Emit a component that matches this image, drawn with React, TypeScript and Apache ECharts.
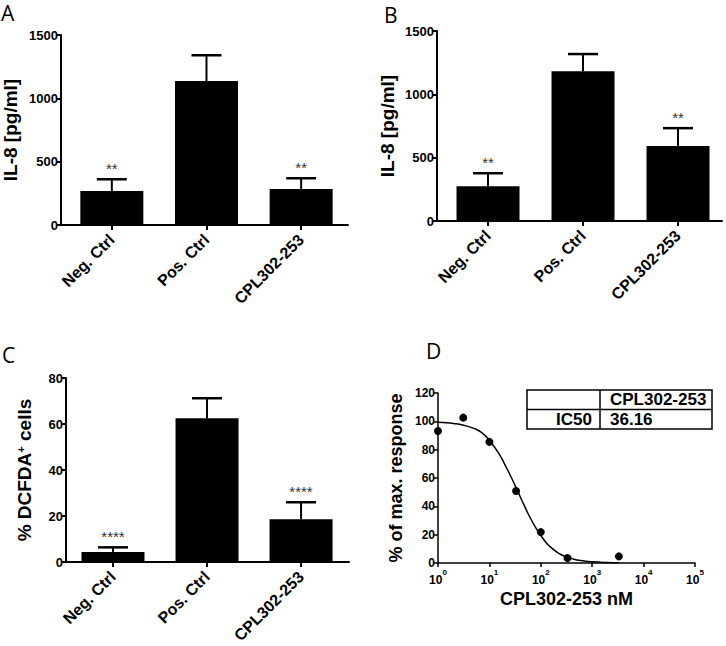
import React, { useEffect, useRef } from 'react';
import * as echarts from 'echarts';

const categories = ['Neg. Ctrl', 'Pos. Ctrl', 'CPL302-253'];

const aMeans = [268, 1137, 284];
const aErrTops = [361, 1340, 369];
const aStars = ['**', '', '**'];

const bMeans = [274, 1183, 593];
const bErrTops = [377, 1318, 733];
const bStars = ['**', '', '**'];

const cMeans = [4.4, 62.5, 18.6];
const cErrTops = [6.4, 71.2, 26.0];
const cStars = ['****', '', '****'];

const dDoses = [1, 3.1, 10, 33, 100, 330, 3300];
const dResponses = [93.2, 102.6, 85.5, 50.8, 21.8, 3.5, 4.7];

const fitDoses = [1, 1.5, 2, 3, 5, 7, 10, 15, 20, 25, 30, 36, 45, 60, 80, 100, 130, 170, 220, 300, 400, 600, 1000, 2000, 3300];
const fitResponses = [99.3, 99.0, 98.5, 97.4, 95.0, 92.2, 86.5, 77.8, 69.5, 62.5, 56.5, 50.2, 42.5, 33.0, 24.8, 19.5, 14.0, 10.0, 7.0, 4.6, 3.1, 1.7, 0.8, 0.3, 0.15];

const decadeTicks = [1, 10, 100, 1000, 10000, 100000];
const tableHeader = 'CPL302-253';
const tableRowLabel = 'IC50';
const tableRowValue = '36.16';

const FONT = '"Liberation Sans", Arial, Helvetica, sans-serif';
const LETTER_FONT = '"Open Sans", "Liberation Sans", sans-serif';

function barPanel(
  idx: number,
  means: number[],
  errs: number[],
  stars: string[],
  xMin: number,
  xMax: number,
  yMax: number,
  yInterval: number,
  name: any,
  nameGap: number,
  nameRich?: any
) {
  const xAxis = {
    type: 'value',
    gridIndex: idx,
    min: xMin,
    max: xMax,
    splitLine: { show: false },
    axisLine: { show: true, onZero: false, lineStyle: { color: '#000', width: 2 } },
    axisTick: { show: true, customValues: [0, 1, 2], length: 5, lineStyle: { color: '#000', width: 2 } },
    axisLabel: {
      show: true,
      customValues: [0, 1, 2],
      formatter: (v: number) => categories[Math.round(v)] ?? '',
      rotate: 45,
      fontSize: 16,
      fontWeight: 'bold',
      color: '#000',
      fontFamily: FONT,
      margin: 12,
    },
  };
  const yAxis = {
    type: 'value',
    gridIndex: idx,
    min: 0,
    max: yMax,
    interval: yInterval,
    splitLine: { show: false },
    axisLine: { show: true, onZero: false, lineStyle: { color: '#000', width: 2 } },
    axisTick: { show: true, length: 5, lineStyle: { color: '#000', width: 2 } },
    axisLabel: {
      fontSize: 13,
      fontWeight: 'bold',
      color: '#000',
      fontFamily: FONT,
      margin: 3,
      formatter: (v: number) => String(v),
    },
    name,
    nameLocation: 'middle',
    nameGap,
    nameRotate: 90,
    nameTextStyle: { fontSize: 19, fontWeight: 'bold', color: '#000', fontFamily: FONT, rich: nameRich },
  };
  const bars = {
    type: 'bar',
    xAxisIndex: idx,
    yAxisIndex: idx,
    barWidth: 63,
    itemStyle: { color: '#000' },
    data: means.map((m, i) => [i, m]),
    z: 2,
  };
  const errSeries = {
    type: 'custom',
    xAxisIndex: idx,
    yAxisIndex: idx,
    z: 3,
    encode: { x: 0, y: [1, 2] },
    data: means.map((m, i) => [i, m, errs[i]]),
    renderItem: (params: any, api: any) => {
      const x = api.value(0);
      const p0 = api.coord([x, api.value(1)]);
      const p1 = api.coord([x, api.value(2)]);
      const star = stars[params.dataIndex] || '';
      return {
        type: 'group',
        children: [
          { type: 'line', shape: { x1: p0[0], y1: p0[1], x2: p1[0], y2: p1[1] }, style: { stroke: '#000', lineWidth: 2 } },
          { type: 'line', shape: { x1: p1[0] - 15, y1: p1[1], x2: p1[0] + 15, y2: p1[1] }, style: { stroke: '#000', lineWidth: 2.5 } },
          {
            type: 'text',
            style: {
              text: star,
              x: p1[0],
              y: p1[1] - 3,
              align: 'center',
              verticalAlign: 'bottom',
              fontSize: 15,
              fontFamily: FONT,
              fill: '#333',
            },
          },
        ],
      };
    },
  };
  return { xAxis, yAxis, series: [bars, errSeries] };
}

export default function App() {
  const ref = useRef<HTMLDivElement>(null);
  useEffect(() => {
    if (!ref.current) return;
    const chart = echarts.init(ref.current, undefined, { renderer: 'svg' });

    const A = barPanel(0, aMeans, aErrTops, aStars, -0.537, 2.495, 1500, 500, 'IL-8 [pg/ml]', 41);
    const B = barPanel(1, bMeans, bErrTops, bStars, -0.537, 2.463, 1500, 500, 'IL-8 [pg/ml]', 40);
    const C = barPanel(
      2, cMeans, cErrTops, cStars, -0.5, 2.51, 80, 20,
      '% DCFDA{sup|+} cells', 32,
      { sup: { fontSize: 11, fontWeight: 'bold', fontFamily: FONT, color: '#000', verticalAlign: 'top', lineHeight: 11 } }
    );

    const dX = {
      type: 'log',
      logBase: 10,
      gridIndex: 3,
      min: 1,
      max: 100000,
      splitLine: { show: false },
      minorTick: { show: false },
      axisLine: { show: true, onZero: false, lineStyle: { color: '#000', width: 1.5 } },
      axisTick: { show: true, customValues: decadeTicks, length: 4, lineStyle: { color: '#000', width: 1.5 } },
      axisLabel: {
        customValues: decadeTicks,
        formatter: (v: number) => `{b|10}{s|${Math.round(Math.log10(v))}}`,
        margin: 5,
        rich: {
          b: { fontSize: 12, fontWeight: 'bold', fontFamily: FONT, color: '#000', lineHeight: 18, verticalAlign: 'bottom' },
          s: { fontSize: 8, fontWeight: 'bold', fontFamily: FONT, color: '#000', lineHeight: 8, verticalAlign: 'top' },
        },
      },
      name: 'CPL302-253 nM',
      nameLocation: 'middle',
      nameGap: 27,
      nameTextStyle: { fontSize: 18, fontWeight: 'bold', color: '#000', fontFamily: FONT },
    };
    const dY = {
      type: 'value',
      gridIndex: 3,
      min: 0,
      max: 120,
      interval: 20,
      splitLine: { show: false },
      axisLine: { show: true, onZero: false, lineStyle: { color: '#000', width: 1.5 } },
      axisTick: { show: true, length: 4, lineStyle: { color: '#000', width: 1.5 } },
      axisLabel: { fontSize: 12, fontWeight: 'bold', color: '#000', fontFamily: FONT, margin: 3 },
      name: '% of max. response',
      nameLocation: 'middle',
      nameGap: 33,
      nameRotate: 90,
      nameTextStyle: { fontSize: 18, fontWeight: 'bold', color: '#000', fontFamily: FONT },
    };

    const letter = (t: string, x: number, y: number) => ({
      type: 'text',
      x,
      y,
      style: { text: t, fontSize: 21, fontFamily: LETTER_FONT, fill: '#000', verticalAlign: 'middle', align: 'left' },
    });

    const tl = 527, tt = 390, tw = 185, th = 39, tdiv = 600;
    const tableStroke = { stroke: '#000', lineWidth: 1.5, fill: 'none' };

    chart.setOption({
      animation: false,
      backgroundColor: '#fff',
      grid: [
        { left: 60, top: 35, width: 288, height: 190 },
        { left: 437, top: 31, width: 285, height: 190 },
        { left: 66, top: 378, width: 283, height: 188 },
        { left: 438, top: 393, width: 257, height: 170 },
      ],
      xAxis: [A.xAxis, B.xAxis, C.xAxis, dX],
      yAxis: [A.yAxis, B.yAxis, C.yAxis, dY],
      series: [
        ...A.series,
        ...B.series,
        ...C.series,
        {
          type: 'line',
          xAxisIndex: 3,
          yAxisIndex: 3,
          data: fitDoses.map((d, i) => [d, fitResponses[i]]),
          showSymbol: false,
          smooth: true,
          lineStyle: { color: '#000', width: 1.5 },
          z: 2,
        },
        {
          type: 'scatter',
          xAxisIndex: 3,
          yAxisIndex: 3,
          data: dDoses.map((d, i) => [d, dResponses[i]]),
          symbol: 'circle',
          symbolSize: 8,
          itemStyle: { color: '#000', opacity: 1 },
          z: 3,
        },
      ],
      graphic: [
        letter('A', 1, 13),
        letter('B', 384, 15),
        letter('C', 2, 355),
        letter('D', 426, 351),
        { type: 'rect', shape: { x: tl, y: tt, width: tw, height: th }, style: tableStroke },
        { type: 'line', shape: { x1: tl, y1: tt + th / 2, x2: tl + tw, y2: tt + th / 2 }, style: tableStroke },
        { type: 'line', shape: { x1: tdiv, y1: tt, x2: tdiv, y2: tt + th }, style: tableStroke },
        {
          type: 'text', x: 610, y: tt + th / 4,
          style: { text: tableHeader, fontSize: 17, fontWeight: 'bold', fontFamily: FONT, fill: '#000', align: 'left', verticalAlign: 'middle' },
        },
        {
          type: 'text', x: 592, y: tt + (3 * th) / 4,
          style: { text: tableRowLabel, fontSize: 17, fontWeight: 'bold', fontFamily: FONT, fill: '#000', align: 'right', verticalAlign: 'middle' },
        },
        {
          type: 'text', x: 610, y: tt + (3 * th) / 4,
          style: { text: tableRowValue, fontSize: 17, fontWeight: 'bold', fontFamily: FONT, fill: '#000', align: 'left', verticalAlign: 'middle' },
        },
      ],
    });
    return () => chart.dispose();
  }, []);
  return <div ref={ref} style={{ position: 'absolute', left: 0, top: 0, width: 726, height: 646, background: '#fff' }} />;
}
